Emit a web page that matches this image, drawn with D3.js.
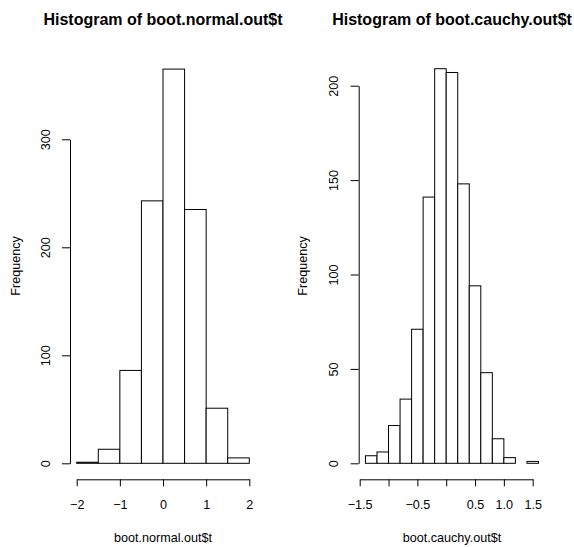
<!DOCTYPE html>
<html>
<head>
<meta charset="utf-8">
<script src="https://cdn.jsdelivr.net/npm/d3@7"></script>
<style>
  body { margin: 0; background: #fff; }
  text { font-family: "Liberation Sans", Arial, Helvetica, sans-serif; fill: #000; }
</style>
</head>
<body>
<script>
// histogram of boot.normal.out$t
const normalBreaks = [-2, -1.5, -1, -0.5, 0, 0.5, 1, 1.5, 2];
const normalCounts = [1, 13, 86, 243, 365, 235, 51, 5];
const normalXTicks = [-2, -1, 0, 1, 2];
const normalYTicks = [0, 100, 200, 300];

// histogram of boot.cauchy.out$t
const cauchyBreaks = [-1.4, -1.2, -1, -0.8, -0.6, -0.4, -0.2, 0, 0.2, 0.4, 0.6, 0.8, 1, 1.2, 1.4, 1.6];
const cauchyCounts = [4, 6, 20, 34, 71, 141, 209, 207, 148, 94, 48, 13, 3, 0, 1];
const cauchyXTicks = [-1.5, -1, -0.5, 0, 0.5, 1, 1.5];
const cauchyXLabels = ["\u22121.5", "", "\u22120.5", "", "0.5", "1.0", "1.5"];
const cauchyYTicks = [0, 50, 100, 150, 200];

const W = 574, H = 547;
const svg = d3.select("body").append("svg")
    .attr("width", W)
    .attr("height", H);

function fmt(v) {
    return (v < 0 ? "\u2212" : "") + Math.abs(v);
}

function drawHist(opt) {
    const x = d3.scaleLinear(opt.xDom, opt.xRange);
    const y = d3.scaleLinear(opt.yDom, opt.yRange);
    const g = svg.append("g");

    const bins = opt.counts.map((c, i) => ({ x0: opt.breaks[i], x1: opt.breaks[i + 1], n: c }));

    g.selectAll("rect")
        .data(bins.filter(b => b.n > 0))
        .enter()
        .append("rect")
        .attr("x", d => x(d.x0))
        .attr("y", d => y(d.n))
        .attr("width", d => x(d.x1) - x(d.x0))
        .attr("height", d => y(0) - y(d.n))
        .attr("fill", "#fff")
        .attr("stroke", "#000")
        .attr("stroke-width", 1);

    // x axis
    const xAxis = g.append("g")
        .attr("transform", `translate(0, ${opt.xAxisY})`)
        .call(d3.axisBottom(x)
            .tickValues(opt.xTicks)
            .tickFormat((d, i) => opt.xLabels ? opt.xLabels[i] : fmt(d))
            .tickSize(7)
            .tickSizeOuter(0));
    xAxis.selectAll("text")
        .attr("y", 30)
        .attr("dy", 0)
        .style("font-size", "12.6px");

    // y axis
    const yAxis = g.append("g")
        .attr("transform", `translate(${opt.yAxisX}, 0)`)
        .call(d3.axisLeft(y)
            .tickValues(opt.yTicks)
            .tickSize(8)
            .tickSizeOuter(0));
    yAxis.selectAll("text")
        .attr("transform", "rotate(-90)")
        .attr("x", 0)
        .attr("y", -20.5)
        .attr("dy", 0)
        .attr("text-anchor", "middle")
        .style("font-size", "12.6px");

    svg.selectAll(".domain, .tick line").attr("stroke", "#000");
    svg.selectAll(".tick text").attr("fill", "#000").attr("font-family", null);

    g.append("text")
        .attr("x", opt.center)
        .attr("y", 25)
        .attr("text-anchor", "middle")
        .style("font-size", "16px")
        .style("font-weight", "bold")
        .text(opt.title);

    g.append("text")
        .attr("x", opt.center)
        .attr("y", 542)
        .attr("text-anchor", "middle")
        .style("font-size", "12.6px")
        .text(opt.xTitle);

    g.append("text")
        .attr("transform", `translate(${opt.yTitleX}, 266) rotate(-90)`)
        .attr("text-anchor", "middle")
        .style("font-size", "12.6px")
        .text("Frequency");
}

drawHist({
    breaks: normalBreaks, counts: normalCounts,
    xDom: [-2, 2], xRange: [76.7, 249.3],
    yDom: [0, 300], yRange: [463.3, 139.3],
    xTicks: normalXTicks, yTicks: normalYTicks,
    xAxisY: 479.3, yAxisX: 70,
    center: 163, yTitleX: 20,
    title: "Histogram of boot.normal.out$t",
    xTitle: "boot.normal.out$t"
});

drawHist({
    breaks: cauchyBreaks, counts: cauchyCounts,
    xDom: [-1.5, 1.5], xRange: [359.7, 532.7],
    yDom: [0, 200], yRange: [463.3, 85.7],
    xTicks: cauchyXTicks, xLabels: cauchyXLabels, yTicks: cauchyYTicks,
    xAxisY: 479.3, yAxisX: 358.7,
    center: 452, yTitleX: 307,
    title: "Histogram of boot.cauchy.out$t",
    xTitle: "boot.cauchy.out$t"
});
</script>
</body>
</html>
